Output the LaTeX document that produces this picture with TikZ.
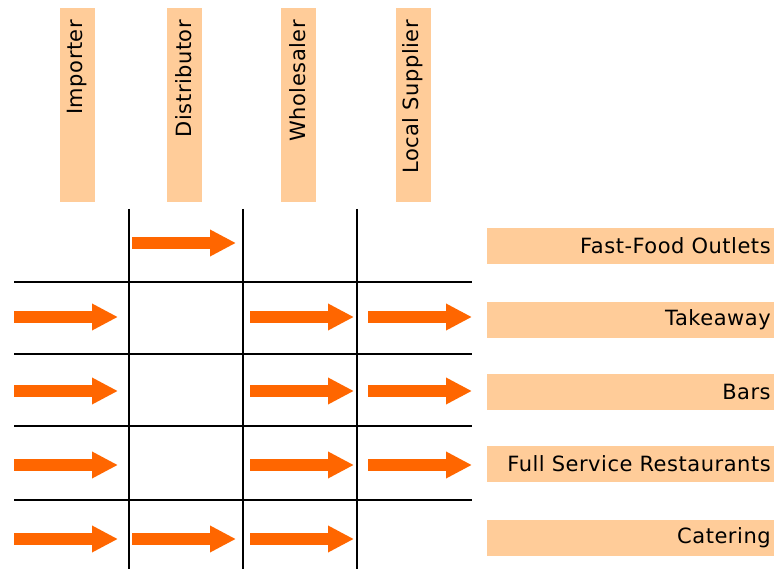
\documentclass[tikz,border=0pt]{standalone}
\usepackage{fontspec}
\setmainfont{DejaVu Sans}[LetterSpace=2.5]
\usetikzlibrary{arrows.meta}
\definecolor{peach}{HTML}{FFCC99}
\definecolor{flame}{HTML}{FF6600}
\tikzset{
  rolebox/.style={fill=peach, rotate=90, minimum height=35pt, text width=170pt,
    inner xsep=12pt, inner ysep=0pt, align=right, font=\fontsize{21}{25}\selectfont},
  outletbox/.style={fill=peach, minimum height=36pt, text width=280pt,
    inner xsep=3.5pt, inner ysep=0pt, align=right, anchor=west, font=\fontsize{21}{25}\selectfont},
  gridline/.style={line width=2.4pt, black},
  flow/.style={line width=12.5pt, flame, -{Triangle[length=26pt,width=25pt]}}
}
\begin{document}
\begin{tikzpicture}[x=1pt,y=-1pt]
\useasboundingbox (0,0) rectangle (774,569);

% supply-chain roles (column headers)
\node[rolebox] (imp) at (77,105) {Importer};
\node[rolebox] (dis) at (184,105) {Distributor};
\node[rolebox] (who) at (298,105) {Wholesaler};
\node[rolebox] (loc) at (413,105) {Local Supplier};

% outlets (row labels)
\node[outletbox] (ff)  at (487,246) {Fast-Food Outlets};
\node[outletbox] (tk)  at (487,320) {Takeaway};
\node[outletbox] (bar) at (487,392) {Bars};
\node[outletbox] (fsr) at (487,464) {Full Service Restaurants};
\node[outletbox] (cat) at (487,538) {Catering};

% grid
\foreach \x in {129,243,357} \draw[gridline] (\x,209) -- (\x,569);
\foreach \y in {282,354,426,500} \draw[gridline] (14,\y) -- (472,\y);

% flows per row
\draw[flow] (132,243) -- (236,243);
\foreach \y in {317,391,465} {
  \draw[flow] (14,\y) -- (118,\y);
  \draw[flow] (250,\y) -- (354,\y);
  \draw[flow] (368,\y) -- (472,\y);
}
\draw[flow] (14,539) -- (118,539);
\draw[flow] (132,539) -- (236,539);
\draw[flow] (250,539) -- (354,539);
\end{tikzpicture}
\end{document}
